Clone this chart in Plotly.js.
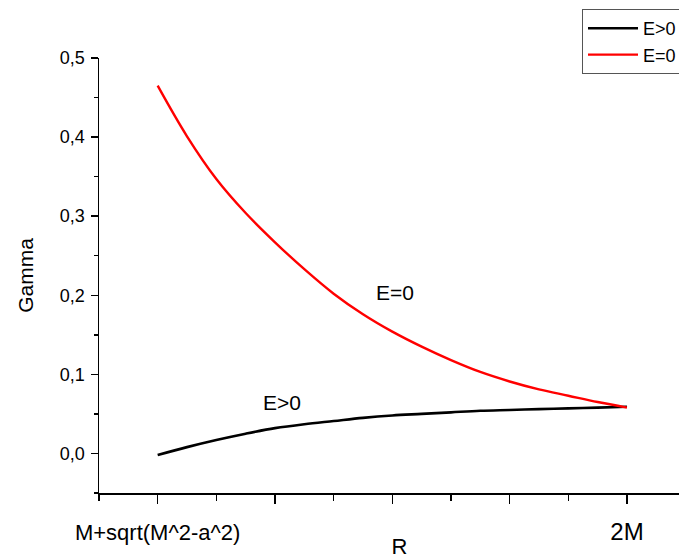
<!DOCTYPE html>
<html>
<head>
<meta charset="utf-8">
<script src="https://cdn.plot.ly/plotly-3.0.1.min.js"></script>
<style>
html,body{margin:0;padding:0;overflow:hidden;background:#fff;}
#chart{width:760px;height:559px;}
</style>
</head>
<body>
<div id="chart"></div>
<script>
// Data
const xRed = [0, 0.5, 1, 1.5, 2, 2.5, 3, 3.5, 4, 4.5, 5, 5.5, 6, 6.5, 7, 7.5, 8];
const yRed = [0.465, 0.401, 0.347, 0.304, 0.267, 0.233, 0.202, 0.176, 0.154, 0.135, 0.118, 0.103, 0.091, 0.081, 0.073, 0.065, 0.058];
const xBlack = [0, 0.5, 1, 1.5, 2, 2.5, 3, 3.5, 4, 4.5, 5, 5.5, 6, 6.5, 7, 7.5, 8];
const yBlack = [-0.002, 0.008, 0.017, 0.025, 0.032, 0.037, 0.041, 0.045, 0.048, 0.050, 0.052, 0.054, 0.055, 0.056, 0.057, 0.058, 0.059];
const xTickVals = [0, 2, 4, 6, 8];
const xTickText = ['<span style="font-size:22px">M+sqrt(M^2-a^2)</span>', '', '', '', '<span style="font-size:24px">2M</span>'];
const seriesNames = ['E>0', 'E=0'];

const FONT = 'Liberation Sans, Arial, sans-serif';

const traces = [
  {x: xBlack, y: yBlack, name: seriesNames[0], mode: 'lines', line: {color: '#000000', width: 2.6, shape: 'spline', smoothing: 1}},
  {x: xRed, y: yRed, name: seriesNames[1], mode: 'lines', line: {color: '#ff0000', width: 2.4, shape: 'spline', smoothing: 1}}
];

const layout = {
  width: 760, height: 559,
  margin: {l: 99, r: 60, t: 58, b: 66, autoexpand: false},
  paper_bgcolor: '#ffffff', plot_bgcolor: '#ffffff',
  font: {family: FONT, color: '#000000', size: 17},
  separators: ',.',
  showlegend: true,
  legend: {
    xref: 'container', yref: 'container',
    x: 582/760, y: 1 - 9/559, xanchor: 'left', yanchor: 'top',
    bgcolor: '#ffffff', bordercolor: '#555555', borderwidth: 1,
    font: {family: FONT, size: 18, color: '#000'},
    itemwidth: 50, tracegroupgap: 0
  },
  xaxis: {
    range: [-1, 9.245],
    showgrid: false, zeroline: false,
    showline: true, linecolor: '#000', linewidth: 1.5,
    ticks: 'outside', ticklen: 9, tickwidth: 1.5, tickcolor: '#000',
    tickmode: 'array', tickvals: xTickVals, ticktext: xTickText,
    ticklabelstandoff: 11,
    minor: {tickmode: 'linear', tick0: -1, dtick: 1, ticks: 'outside', ticklen: 6, tickwidth: 1.5, tickcolor: '#000'},
    tickfont: {family: FONT, size: 21, color: '#000'},
    title: {text: 'R', font: {family: FONT, size: 22, color: '#000'}, standoff: 8},
    automargin: false
  },
  yaxis: {
    range: [-0.05, 0.5],
    showgrid: false, zeroline: false,
    showline: true, linecolor: '#000', linewidth: 1.5,
    ticks: 'outside', ticklen: 7, tickwidth: 1.5, tickcolor: '#000',
    tickmode: 'linear', tick0: 0, dtick: 0.1, tickformat: '.1f',
    minor: {tickmode: 'linear', tick0: 0.05, dtick: 0.05, ticks: 'outside', ticklen: 4, tickwidth: 1.5, tickcolor: '#000'},
    tickfont: {family: FONT, size: 18, color: '#000'},
    ticklabelstandoff: 2,
    title: {text: 'Gamma', font: {family: FONT, size: 21, color: '#000'}, standoff: 20},
    automargin: false
  },
  annotations: [
    {x: 4.04, y: 0.204, xref: 'x', yref: 'y', text: 'E=0', showarrow: false, font: {family: FONT, size: 21, color: '#000'}},
    {x: 2.12, y: 0.065, xref: 'x', yref: 'y', text: 'E>0', showarrow: false, font: {family: FONT, size: 21, color: '#000'}}
  ]
};

Plotly.newPlot('chart', traces, layout, {displayModeBar: false, staticPlot: true});
</script>
</body>
</html>
